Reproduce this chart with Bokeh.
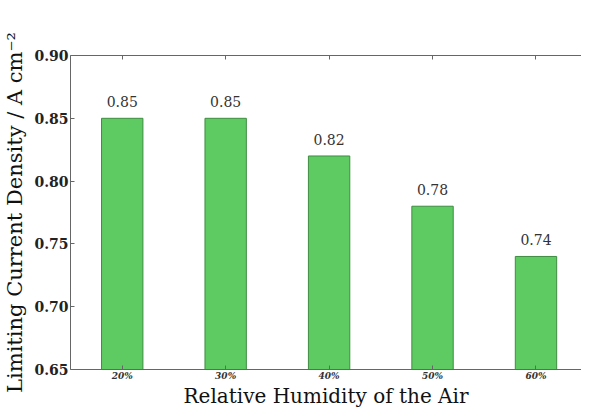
from bokeh.plotting import figure
from bokeh.models import ColumnDataSource, FixedTicker, LinearAxis, Range1d
from bokeh.core.properties import value
from bokeh.embed import file_html
from bokeh.resources import INLINE

humidity = ["20%", "30%", "40%", "50%", "60%"]
density = [0.85, 0.85, 0.82, 0.78, 0.74]
y_ticks = [0.65, 0.70, 0.75, 0.80, 0.85, 0.90]

xs = list(range(len(humidity)))
src = ColumnDataSource(dict(x=xs, top=density,
                            label=["%.2f" % d for d in density]))

p = figure(width=581, height=410, output_backend="svg", toolbar_location=None,
           x_range=Range1d(-0.5, 4.44), y_range=Range1d(0.65, 0.90),
           min_border_left=67, min_border_right=0, min_border_top=55,
           min_border_bottom=20)
p.outline_line_color = None
p.grid.visible = False
p.background_fill_color = "white"

p.vbar(x="x", top="top", bottom=0.6, width=0.4, source=src,
       fill_color="#5ecb62", line_color="#3e8c41", line_width=1)
p.text(x="x", y="top", text="label", source=src, text_align="center",
       text_baseline="bottom", y_offset=-11, text_font=value("DejaVu Serif"),
       text_font_size="14px", text_color="#333333")

GRAY = "#666666"
xa = p.xaxis[0]
xa.ticker = FixedTicker(ticks=xs)
xa.major_label_overrides = {i: h for i, h in zip(xs, humidity)}
xa.major_label_text_font = "DejaVu Serif"
xa.major_label_text_font_size = "9px"
xa.major_label_text_font_style = "bold italic"
xa.major_label_text_color = "#333333"
xa.major_label_standoff = 1
xa.axis_label = "Relative Humidity of the Air"
xa.axis_label_text_font = "DejaVu Serif"
xa.axis_label_text_font_size = "20px"
xa.axis_label_text_font_style = "normal"
xa.axis_label_text_color = "#111111"
xa.axis_label_standoff = 0
xa.major_tick_in = 4
xa.major_tick_out = 0
xa.minor_tick_line_color = None
xa.axis_line_color = GRAY
xa.major_tick_line_color = GRAY

ya = p.yaxis[0]
ya.ticker = FixedTicker(ticks=y_ticks)
ya.major_label_overrides = {t: "%.2f" % t for t in y_ticks}
ya.major_label_text_font = "DejaVu Serif"
ya.major_label_text_font_size = "14px"
ya.major_label_text_font_style = "bold"
ya.major_label_text_color = "#222222"
ya.major_label_standoff = 2
ya.axis_label = "Limiting Current Density / A cm\u207b\u00b2"
ya.axis_label_text_font = "DejaVu Serif"
ya.axis_label_text_font_size = "21px"
ya.axis_label_text_font_style = "normal"
ya.axis_label_text_color = "#111111"
ya.axis_label_standoff = 4
ya.major_tick_in = 4
ya.major_tick_out = 0
ya.minor_tick_line_color = None
ya.axis_line_color = GRAY
ya.major_tick_line_color = GRAY

top = LinearAxis(ticker=FixedTicker(ticks=xs), major_label_text_font_size="0px",
                 major_tick_in=4, major_tick_out=0, minor_tick_line_color=None,
                 axis_line_color=GRAY, major_tick_line_color=GRAY,
                 major_label_standoff=0)
p.add_layout(top, "above")

open("out.html", "w").write(file_html(p, INLINE))
